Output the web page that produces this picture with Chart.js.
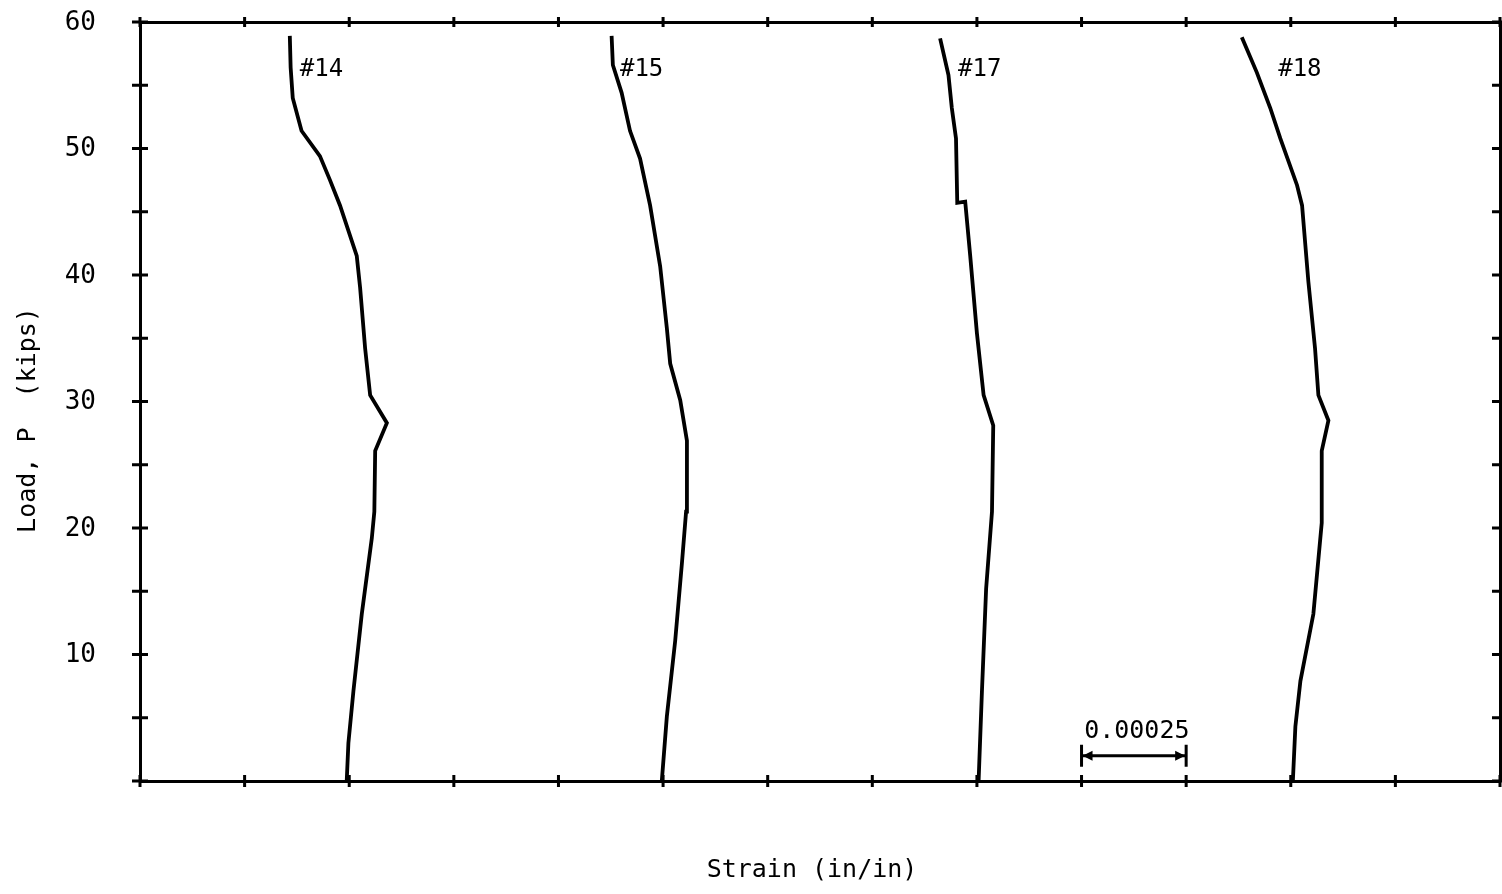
<!DOCTYPE html>
<html>
<head>
<meta charset="utf-8">
<script src="https://cdn.jsdelivr.net/npm/chart.js@4/dist/chart.umd.min.js"></script>
<style>
  html, body { margin: 0; padding: 0; background: #fff; }
</style>
</head>
<body>
<canvas id="strainChart" width="1502" height="894"></canvas>
<script>
// --- Data (strain in in/in, load in kips) ---
const g14Strain = [0.000494, 0.000498, 0.000510, 0.000530, 0.000554, 0.000560, 0.000562, 0.000590, 0.000550, 0.000538, 0.000526, 0.000518, 0.000478, 0.000454, 0.000430, 0.000386, 0.000365, 0.000360, 0.000358];
const g14Load   = [0, 3.0, 7.1, 13.2, 19.2, 21.3, 26.1, 28.3, 30.5, 34.2, 39.0, 41.5, 45.5, 47.5, 49.4, 51.4, 54.0, 56.4, 58.9];

const g15Strain = [0.001247, 0.001259, 0.001279, 0.001295, 0.001305, 0.001307, 0.001291, 0.001267, 0.001259, 0.001243, 0.001219, 0.001195, 0.001171, 0.001151, 0.001130, 0.001127];
const g15Load   = [0, 5.1, 11.1, 17.2, 21.3, 26.9, 30.1, 33.0, 35.8, 40.7, 45.5, 49.2, 51.4, 54.4, 56.6, 58.9];

const g17Strain = [0.002004, 0.002012, 0.002022, 0.002036, 0.002039, 0.002016, 0.002000, 0.001984, 0.001972, 0.001953, 0.001950, 0.001940, 0.001932, 0.001912];
const g17Load   = [0, 7.1, 15.2, 21.3, 28.1, 30.5, 35.4, 41.5, 45.8, 45.7, 50.8, 53.2, 55.8, 58.7];

const g18Strain = [0.002755, 0.002761, 0.002773, 0.002804, 0.002824, 0.002824, 0.002840, 0.002816, 0.002808, 0.002792, 0.002777, 0.002765, 0.002725, 0.002701, 0.002669, 0.002633];
const g18Load   = [0, 4.3, 7.9, 13.2, 20.4, 26.1, 28.5, 30.5, 34.2, 39.5, 45.5, 47.1, 50.8, 53.2, 56.0, 58.8];

// curve labels, anchored at the left end of the text
const gaugeNames   = ['#14', '#15', '#17', '#18'];
const gaugeLabelX  = [0.000382, 0.001147, 0.001955, 0.002720];
const gaugeLabelY  = [56.2, 56.2, 56.2, 56.2];

// tick marks on the frame, and the labelled load values
const strainTicks = [0, 0.00025, 0.0005, 0.00075, 0.001, 0.00125, 0.0015, 0.00175, 0.002, 0.00225, 0.0025, 0.00275, 0.003, 0.00325];
const loadTicks   = [0, 5, 10, 15, 20, 25, 30, 35, 40, 45, 50, 55, 60];
const loadLabels  = [10, 20, 30, 40, 50, 60];

// strain scale bar
const scaleBarText  = '0.00025';
const scaleBarFrom  = 0.00225;
const scaleBarTo    = 0.0025;
const scaleBarLoad  = 2.0;
const scaleBarLabelLoad = 3.9;

const MONO = '"DejaVu Sans Mono", "Liberation Mono", monospace';

function toPoints(xs, ys) {
    return xs.map((v, i) => ({ x: v, y: ys[i] }));
}

function curve(xs, ys) {
    return {
        data: toPoints(xs, ys),
        showLine: true,
        borderColor: '#000',
        borderWidth: 3.8,
        pointRadius: 0,
        tension: 0,
        fill: false,
    };
}

// --- Frame ticks, labels, scale bar, axis titles ---
const annotations = {
    id: 'annotations',
    afterDraw(chart) {
        const { ctx, chartArea: a, scales: { x, y } } = chart;
        ctx.save();
        ctx.strokeStyle = '#000';
        ctx.fillStyle = '#000';
        ctx.lineWidth = 3;

        // ticks crossing the frame
        ctx.beginPath();
        loadTicks.forEach(v => {
            const py = y.getPixelForValue(v);
            ctx.moveTo(a.left - 8, py); ctx.lineTo(a.left + 8, py);
            ctx.moveTo(a.right - 8, py); ctx.lineTo(a.right + 8, py);
        });
        strainTicks.forEach(v => {
            const px = x.getPixelForValue(v);
            ctx.moveTo(px, a.bottom - 6); ctx.lineTo(px, a.bottom + 6);
            ctx.moveTo(px, a.top - 5); ctx.lineTo(px, a.top + 5);
        });
        ctx.stroke();

        // load tick labels
        ctx.font = '26px ' + MONO;
        ctx.textAlign = 'right';
        ctx.textBaseline = 'middle';
        loadLabels.forEach(v => {
            ctx.fillText(String(v), a.left - 44, y.getPixelForValue(v) + 1);
        });

        // gauge labels
        ctx.font = '24px ' + MONO;
        ctx.textAlign = 'left';
        gaugeNames.forEach((n, i) => {
            ctx.fillText(n, x.getPixelForValue(gaugeLabelX[i]), y.getPixelForValue(gaugeLabelY[i]));
        });

        // scale bar |<---->|
        const x1 = x.getPixelForValue(scaleBarFrom);
        const x2 = x.getPixelForValue(scaleBarTo);
        const yb = y.getPixelForValue(scaleBarLoad);
        ctx.lineWidth = 3;
        ctx.beginPath();
        ctx.moveTo(x1, yb); ctx.lineTo(x2, yb);
        ctx.moveTo(x1, yb - 11); ctx.lineTo(x1, yb + 11);
        ctx.moveTo(x2, yb - 11); ctx.lineTo(x2, yb + 11);
        ctx.stroke();
        ctx.beginPath();
        ctx.moveTo(x1 + 1, yb); ctx.lineTo(x1 + 11, yb - 5); ctx.lineTo(x1 + 11, yb + 5); ctx.closePath();
        ctx.moveTo(x2 - 1, yb); ctx.lineTo(x2 - 11, yb - 5); ctx.lineTo(x2 - 11, yb + 5); ctx.closePath();
        ctx.fill();
        ctx.textAlign = 'center';
        ctx.font = '25px ' + MONO;
        ctx.fillText(scaleBarText, (x1 + x2) / 2 + 3, y.getPixelForValue(scaleBarLabelLoad));

        // axis titles
        ctx.font = '25px ' + MONO;
        ctx.fillText('Strain (in/in)', 812, 870);
        ctx.translate(28, 420);
        ctx.rotate(-Math.PI / 2);
        ctx.fillText('Load, P  (kips)', 0, 0);
        ctx.restore();
    }
};

const frameBorder = { display: true, color: '#000', width: 3 };

new Chart(document.getElementById('strainChart'), {
    type: 'scatter',
    data: {
        datasets: [
            curve(g14Strain, g14Load),
            curve(g15Strain, g15Load),
            curve(g17Strain, g17Load),
            curve(g18Strain, g18Load),
        ],
    },
    options: {
        responsive: false,
        animation: false,
        layout: { padding: { top: 22, right: 2, left: 0, bottom: 0 } },
        plugins: {
            legend: { display: false },
            tooltip: { enabled: false },
        },
        scales: {
            x: {
                type: 'linear',
                position: 'bottom',
                min: 0,
                max: 0.00325,
                ticks: { display: false },
                grid: { display: false, drawTicks: false },
                border: frameBorder,
                afterFit: s => { s.height = 113; },
            },
            xTop: {
                type: 'linear',
                position: 'top',
                min: 0,
                max: 0.00325,
                ticks: { display: false },
                grid: { display: false, drawTicks: false },
                border: frameBorder,
                afterFit: s => { s.height = 0; },
            },
            y: {
                type: 'linear',
                position: 'left',
                min: 0,
                max: 60,
                ticks: { display: false },
                grid: { display: false, drawTicks: false },
                border: frameBorder,
                afterFit: s => { s.width = 140; },
            },
            yRight: {
                type: 'linear',
                position: 'right',
                min: 0,
                max: 60,
                ticks: { display: false },
                grid: { display: false, drawTicks: false },
                border: frameBorder,
                afterFit: s => { s.width = 0; },
            },
        },
    },
    plugins: [annotations],
});
</script>
</body>
</html>
